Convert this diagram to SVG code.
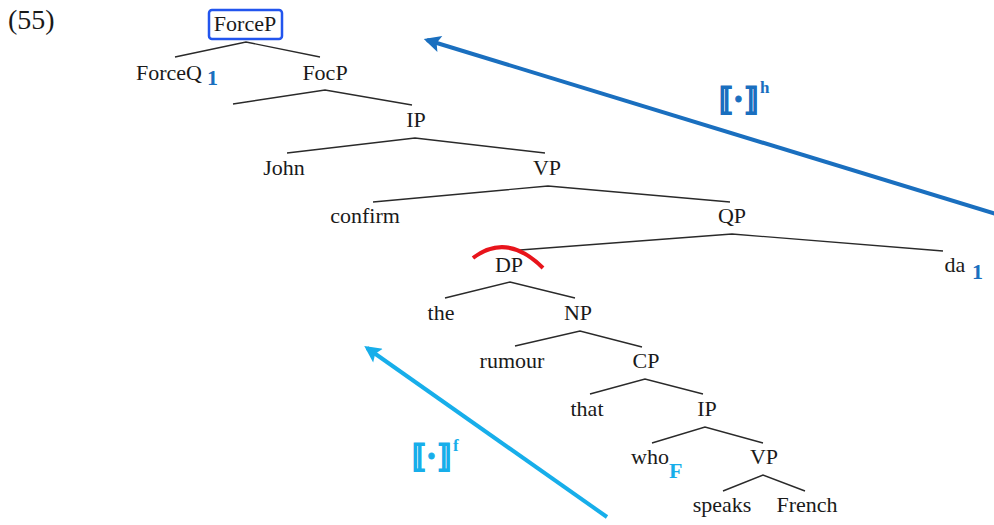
<svg xmlns="http://www.w3.org/2000/svg" width="994" height="525" viewBox="0 0 994 525" font-family="'Liberation Serif', 'Times New Roman', 'DejaVu Serif', serif">
  <style>
    .t { font-family: 'Liberation Serif', 'Times New Roman', 'DejaVu Serif', serif; font-size: 22px; fill: #1a1a1a; text-anchor: middle; }
    .num { font-family: 'Liberation Serif', 'Times New Roman', 'DejaVu Serif', serif; font-size: 28px; fill: #1a1a1a; }
    .edge { stroke: #2a2a2a; stroke-width: 1.4; fill: none; }
    .idx { font-family: 'Liberation Serif', 'Times New Roman', serif; font-weight: bold; font-size: 22px; }
    .dk { fill: #1a6fbf; }
    .lt { fill: #17aeea; }
    .br { font-family: 'DejaVu Serif', 'Liberation Serif', serif; font-weight: bold; font-size: 31px; stroke-width: 1; }
    .br.dk { stroke: #1a6fbf; }
    .br.lt { stroke: #17aeea; }
    .sup { font-family: 'Liberation Serif', 'Times New Roman', serif; font-weight: bold; font-size: 17px; }
  </style>
  <defs>
    <marker id="headDark" viewBox="0 0 10 10" refX="8" refY="5" markerWidth="5" markerHeight="4.2" orient="auto" markerUnits="strokeWidth">
      <path d="M0,0 L10,5 L0,10 L2,5 Z" fill="#1a6fbf"/>
    </marker>
    <marker id="headLight" viewBox="0 0 10 10" refX="8" refY="5" markerWidth="5" markerHeight="4.2" orient="auto" markerUnits="strokeWidth">
      <path d="M0,0 L10,5 L0,10 L2,5 Z" fill="#17aeea"/>
    </marker>
  </defs>

  <rect width="994" height="525" fill="#ffffff"/>

  <text class="num" x="8" y="29">(55)</text>

  <g id="connectors">
    <polyline class="edge" points="175,57 246,42 320,57"/>
    <polyline class="edge" points="233,104 325,90 412,105"/>
    <polyline class="edge" points="287,153 415,138 545,153"/>
    <polyline class="edge" points="373,202 548,186 730,202"/>
    <polyline class="edge" points="520,250 732,234 943,251"/>
    <polyline class="edge" points="445,298 510,282 575,298"/>
    <polyline class="edge" points="515,346 580,331 642,347"/>
    <polyline class="edge" points="590,394 645,379 703,394"/>
    <polyline class="edge" points="652,443 705,427 763,443"/>
    <polyline class="edge" points="723,491 763,475 805,491"/>
    <line x1="996" y1="214" x2="427" y2="40" stroke="#1a6fbf" stroke-width="4" marker-end="url(#headDark)"/>
    <line x1="607" y1="517" x2="367" y2="348" stroke="#17aeea" stroke-width="4" marker-end="url(#headLight)"/>
    <path d="M473,258 Q507,232 543,268" stroke="#e8141b" stroke-width="4" fill="none"/>
  </g>

  <g id="n-forcep">
    <rect x="209" y="10" width="73" height="29" rx="3" fill="none" stroke="#2255ee" stroke-width="2.5"/>
    <text class="t" x="245" y="31">ForceP</text>
  </g>
  <g id="n-forceq">
    <text class="t" x="169" y="80">ForceQ</text>
    <text class="idx dk" x="207" y="85">1</text>
  </g>
  <g id="n-focp"><text class="t" x="325" y="80">FocP</text></g>
  <g id="n-ip1"><text class="t" x="416" y="127">IP</text></g>
  <g id="n-john"><text class="t" x="284" y="175">John</text></g>
  <g id="n-vp1"><text class="t" x="547" y="175">VP</text></g>
  <g id="n-confirm"><text class="t" x="365" y="223">confirm</text></g>
  <g id="n-qp"><text class="t" x="732" y="223">QP</text></g>
  <g id="n-dp"><text class="t" x="509" y="272">DP</text></g>
  <g id="n-da">
    <text class="t" x="955" y="272">da</text>
    <text class="idx dk" x="972" y="279">1</text>
  </g>
  <g id="n-the"><text class="t" x="441" y="320">the</text></g>
  <g id="n-np"><text class="t" x="578" y="320">NP</text></g>
  <g id="n-rumour"><text class="t" x="512" y="368">rumour</text></g>
  <g id="n-cp"><text class="t" x="646" y="368">CP</text></g>
  <g id="n-that"><text class="t" x="587" y="416">that</text></g>
  <g id="n-ip2"><text class="t" x="707" y="416">IP</text></g>
  <g id="n-who">
    <text class="t" x="650" y="464">who</text>
    <text class="idx lt" x="669" y="478">F</text>
  </g>
  <g id="n-vp2"><text class="t" x="764" y="464">VP</text></g>
  <g id="n-speaks"><text class="t" x="722" y="512">speaks</text></g>
  <g id="n-french"><text class="t" x="807" y="512">French</text></g>

  <g id="label-h">
    <text class="br dk" x="719" y="110" textLength="39" lengthAdjust="spacingAndGlyphs">⟦·⟧</text>
    <text class="sup dk" x="760" y="93">h</text>
  </g>
  <g id="label-f">
    <text class="br lt" x="412" y="467" textLength="39" lengthAdjust="spacingAndGlyphs">⟦·⟧</text>
    <text class="sup lt" x="453" y="451">f</text>
  </g>
</svg>
